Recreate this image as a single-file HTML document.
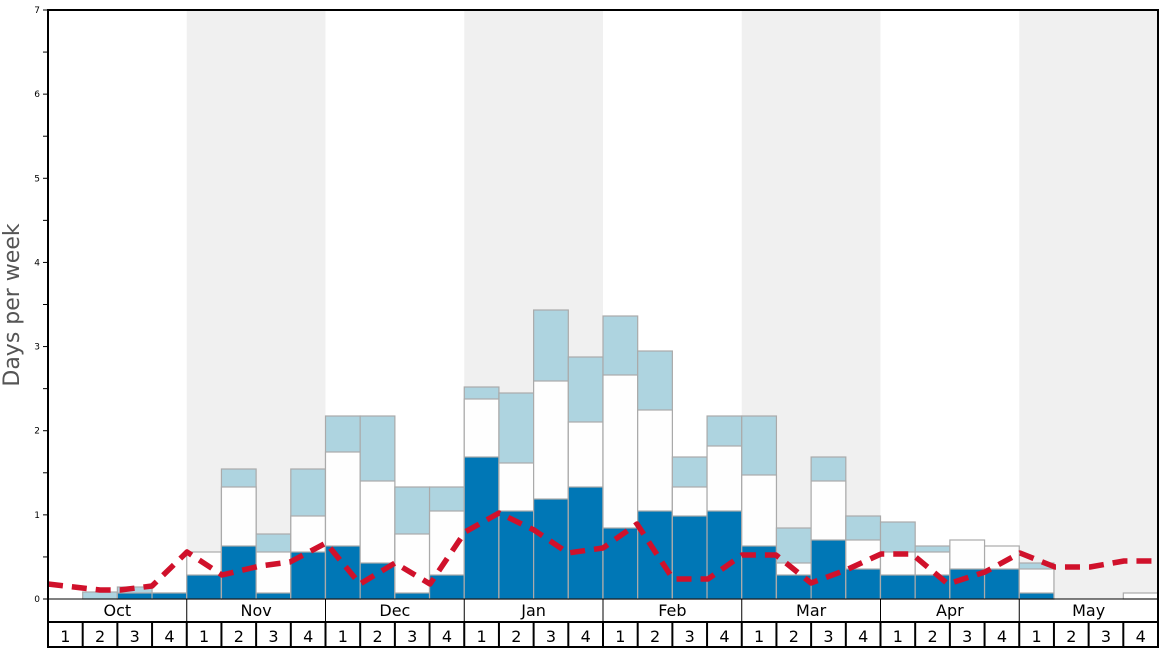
<!DOCTYPE html>
<html><head><meta charset="utf-8"><style>
html,body{margin:0;padding:0;background:#fff}
svg{display:block;font-family:"DejaVu Sans","Liberation Sans",sans-serif}
</style></head><body>
<svg id="s" width="1168" height="648" viewBox="0 0 1168 648"></svg>
<script>
const s=document.getElementById('s');let h='';
const L=48,R=1158,T=10,B=599,W=(R-L)/32;
const y=v=>B-v*(B-T)/7;
[1,3,5,7].forEach(m=>{h+=`<rect x="${L+m*4*W}" y="${T}" width="${4*W}" height="${B-T}" fill="#f0f0f0"/>`});
const d=[[null,null,null],[592,null,null],[587,null,593],[593,null,593],
[null,552,575],[469,487,546],[534,552,593],[469,516,552],
[416,452,546],[416,481,563],[487,534,593],[487,511,575],
[387,399,457],[393,463,511],[310,381,499],[357,422,487],
[316,375,528],[351,410,511],[457,487,516],[416,446,511],
[416,475,546],[528,563,575],[457,481,540],[516,540,569],
[522,552,575],[546,552,575],[null,540,569],[null,546,569],
[563,569,593],[null,null,null],[null,null,null],[null,593,null]];
d.forEach((b,i)=>{const x=L+i*W;
 if(b[0]!=null)h+=`<rect x="${x}" y="${b[0]}" width="${W}" height="${B-b[0]}" fill="#aed4e0" stroke="#aaa" stroke-width="1.2"/>`;
 if(b[1]!=null)h+=`<rect x="${x}" y="${b[1]}" width="${W}" height="${B-b[1]}" fill="#fefefe" stroke="#aaa" stroke-width="1.2"/>`;
 if(b[2]!=null)h+=`<rect x="${x}" y="${b[2]}" width="${W}" height="${B-b[2]}" fill="#0077b6" stroke="#aaa" stroke-width="1.2"/>`;
});
const p=[[48,584],[100,590],[120,590],[152,586],[187,552],[222,575],[260,566],[290,562],[326,543],[360,584],[395,563],[430,584],[465,532],[499,513],[534,530],[568,553],[603,548],[637,524],[673,579],[708,579],[742,555],[776,555],[811,583],[846,570],[881,554],[912,554],[948,584],[985,572],[1020,553],[1055,567],[1090,567],[1124,561],[1158,561]];
h+=`<polyline points="${p.map(q=>q.join(',')).join(' ')}" fill="none" stroke="#d0112b" stroke-width="5.5" stroke-dasharray="15,9" stroke-linejoin="round"/>`;
h+=`<rect x="${L}" y="${T}" width="${R-L}" height="${647-T}" fill="none" stroke="#000" stroke-width="2"/>`;
h+=`<line x1="${L}" y1="622" x2="${R}" y2="622" stroke="#000" stroke-width="2"/>`;
h+=`<line x1="${L}" y1="${B}" x2="${R}" y2="${B}" stroke="#000" stroke-width="1"/>`;
for(let v=0;v<=7;v+=0.5){const yy=y(v);h+=`<line x1="43" y1="${yy}" x2="${L}" y2="${yy}" stroke="#000" stroke-width="1"/>`;
 if(v%1==0)h+=`<text x="40" y="${yy+3}" font-size="9" text-anchor="end" fill="#000">${v}</text>`;}
const mo=['Oct','Nov','Dec','Jan','Feb','Mar','Apr','May'];
mo.forEach((m,i)=>{const x=L+i*4*W;if(i>0)h+=`<line x1="${x}" y1="${B}" x2="${x}" y2="622" stroke="#000" stroke-width="1"/>`;
 h+=`<text x="${x+2*W}" y="616" font-size="16" text-anchor="middle">${m}</text>`;});
for(let i=0;i<32;i++){const x=L+i*W;if(i>0)h+=`<line x1="${x}" y1="622" x2="${x}" y2="647" stroke="#000" stroke-width="2"/>`;
 h+=`<text x="${x+W/2}" y="642" font-size="16" text-anchor="middle">${i%4+1}</text>`;}
h+=`<text transform="translate(19,305) rotate(-90)" font-size="22" fill="#555" text-anchor="middle">Days per week</text>`;
s.innerHTML=h;
</script>
</body></html>
